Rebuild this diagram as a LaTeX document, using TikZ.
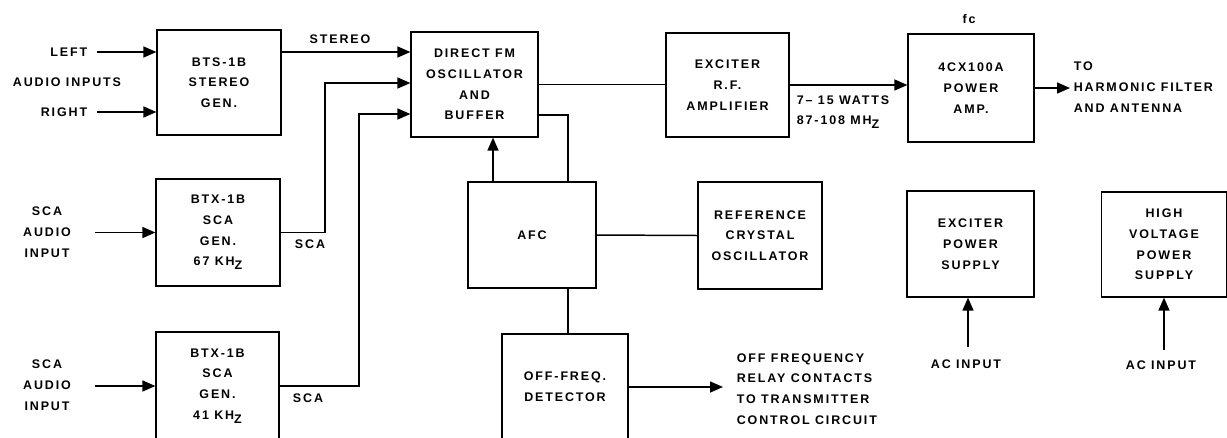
\documentclass[tikz,border=0pt]{standalone}
\usepackage{fontspec}
\newfontfamily\blockfont[LetterSpace=15]{Liberation Sans}
\usepackage{tikz}
\usetikzlibrary{arrows.meta}

\begin{document}
\begin{tikzpicture}[
    x=0.02cm, y=-0.02cm,
    every node/.style={font=\blockfont\bfseries\fontsize{7.1pt}{11.8pt}\selectfont, align=center, inner sep=2pt},
    blk/.style={draw, line width=0.7pt},
    sig/.style={line width=0.85pt},
    >={Triangle[length=2.6mm,width=2.2mm]}
]
\useasboundingbox (0,0) rectangle (1227,437);

\node[blk, minimum width=2.48cm, minimum height=2.10cm] (stereogen) at (219,82.5) {BTS-1B\\STEREO\\GEN.};
\node[blk, minimum width=2.54cm, minimum height=2.10cm] (fmosc) at (474.5,84.5) {DIRECT FM\\OSCILLATOR\\AND\\BUFFER};
\node[blk, minimum width=2.46cm, minimum height=2.08cm] (exciter) at (727.5,85) {EXCITER\\R.F.\\AMPLIFIER};
\node[blk, minimum width=2.52cm, minimum height=2.16cm] (poweramp) at (971,88) {4CX100A\\POWER\\AMP.};
\node[blk, minimum width=2.48cm, minimum height=2.14cm] (scagenA) at (218,232.5) {BTX-1B\\SCA\\GEN.\\67 KH\raisebox{-.6ex}{Z}};
\node[blk, minimum width=2.46cm, minimum height=2.16cm] (scagenB) at (217.5,386) {BTX-1B\\SCA\\GEN.\\41 KH\raisebox{-.6ex}{Z}};
\node[blk, minimum width=2.56cm, minimum height=2.12cm] (afc) at (532,235) {AFC};
\node[blk, minimum width=2.48cm, minimum height=2.14cm] (refosc) at (760,235.5) {REFERENCE\\CRYSTAL\\OSCILLATOR};
\node[blk, minimum width=2.52cm, minimum height=2.12cm] (offfreq) at (565,387) {OFF-FREQ.\\DETECTOR};
\node[blk, minimum width=2.54cm, minimum height=2.12cm] (exps) at (970.5,244) {EXCITER\\POWER\\SUPPLY};
\node[blk, minimum width=2.50cm, minimum height=2.10cm] (hvps) at (1164,244.5) {HIGH\\VOLTAGE\\POWER\\SUPPLY};

\node[anchor=east] (lefttxt) at (91,52) {LEFT};
\node (audiotxt) at (67,82) {AUDIO INPUTS};
\node[anchor=east] (righttxt) at (91,112) {RIGHT};
\node (scatxtA) at (47,232) {SCA\\AUDIO\\INPUT};
\node (scatxtB) at (47,385) {SCA\\AUDIO\\INPUT};
\node (stereotxt) at (340,39) {STEREO};
\node (scalblA) at (310,244) {SCA};
\node (scalblB) at (308,398) {SCA};
\node[anchor=west, align=left] (wattstxt) at (793,112) {7– 15 WATTS\\87-108 MH\raisebox{-.6ex}{Z}};
\node (fctxt) at (969,19) {fc};
\node[anchor=west, align=left] (outtxt) at (1070,87) {TO\\HARMONIC FILTER\\AND ANTENNA};
\node[anchor=west, align=left] (relaytxt) at (733,389) {OFF FREQUENCY\\RELAY CONTACTS\\TO TRANSMITTER\\CONTROL CIRCUIT};
\node (actxtA) at (966,364) {AC INPUT};
\node (actxtB) at (1161,365) {AC INPUT};

\coordinate (inL) at (97,52);
\coordinate (inR) at (97,112);
\coordinate (inA) at (95,0);
\coordinate (inB) at (95,0);
\coordinate (jA) at (325,83);
\coordinate (jB) at (359,114);
\coordinate (fb) at (568,115);
\coordinate (ctl) at (493,0);
\coordinate (relayend) at (723,0);
\coordinate (acA) at (968,347);
\coordinate (acB) at (1164,350);

\draw[sig,->] (inL) -- (inL -| stereogen.west);
\draw[sig,->] (inR) -- (inR -| stereogen.west);
\draw[sig,->] (scagenA.west -| inA) -- (scagenA.west);
\draw[sig,->] (scagenB.west -| inB) -- (scagenB.west);
\draw[sig,->] (stereogen.east |- inL) -- (fmosc.west |- inL);
\draw[sig,->] (scagenA.east) -| (jA) -- (jA -| fmosc.west);
\draw[sig,->] (scagenB.east) -| (jB) -- (jB -| fmosc.west);
\draw[sig] (fmosc.east) -- (fmosc.east -| exciter.west);
\draw[sig,->] (exciter.east) -- (exciter.east -| poweramp.west);
\draw[sig,->] (poweramp.east) -- (poweramp.east -| outtxt.west);
\draw[sig] (fmosc.east |- fb) -| (fb |- afc.north);
\draw[sig,->] (ctl |- afc.north) -- (ctl |- fmosc.south);
\draw[sig] (afc.east) -- (refosc.west);
\draw[sig] (fb |- afc.south) -- (fb |- offfreq.north);
\draw[sig,->] (offfreq.east) -- (offfreq.east -| relayend);
\draw[sig,->] (acA) -- (acA |- exps.south);
\draw[sig,->] (acB) -- (acB |- hvps.south);
\end{tikzpicture}
\end{document}
